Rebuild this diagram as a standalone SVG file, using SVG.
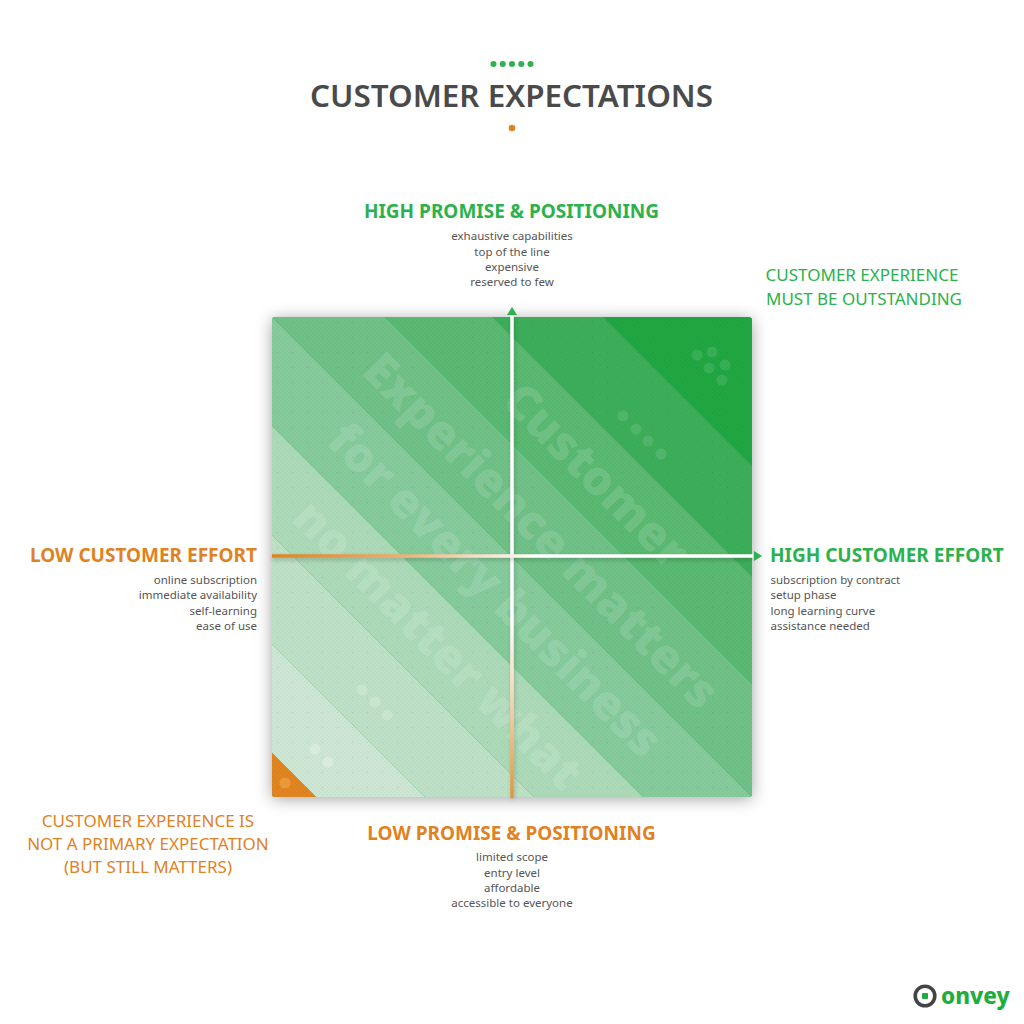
<svg xmlns="http://www.w3.org/2000/svg" width="1024" height="1024" viewBox="0 0 1024 1024">
<style>
text{font-family:"Noto Sans","Open Sans","Liberation Sans",sans-serif}
.h{font-size:19px;font-weight:700}
.s{font-size:11.500px;fill:#555}
.c{font-size:17px;font-weight:400}
.g{fill:#2bb24c}
.o{fill:#e0821f}
.m{text-anchor:middle}
.e{text-anchor:end}
.w{font-family:"Open Sans","Noto Sans",sans-serif;font-size:47.500px;font-weight:800;fill:#fff;fill-opacity:.14}
.d{fill:#fff;fill-opacity:.1}
</style>
<defs>
<clipPath id="clip"><rect x="272" y="317" width="480" height="480" rx="3"/></clipPath>
<filter id="sh" x="-15%" y="-15%" width="130%" height="130%"><feDropShadow dx="0" dy="2" stdDeviation="8" flood-color="#000" flood-opacity=".36"/></filter>
<filter id="lsv" filterUnits="userSpaceOnUse" x="500" y="310" width="24" height="500"><feDropShadow dx="1" dy="1" stdDeviation="2" flood-color="#000" flood-opacity=".18"/></filter>
<filter id="lsh" filterUnits="userSpaceOnUse" x="265" y="545" width="500" height="24"><feDropShadow dx="0" dy="2" stdDeviation="2" flood-color="#000" flood-opacity=".22"/></filter>
<pattern id="tex" width="4" height="4" patternUnits="userSpaceOnUse"><rect width="2" height="2" fill="#000" fill-opacity=".02"/><rect x="2" y="2" width="2" height="2" fill="#000" fill-opacity=".02"/></pattern>
<pattern id="dots" width="15" height="15" patternUnits="userSpaceOnUse"><rect x="7" y="7" width="1" height="1" fill="#000" fill-opacity=".1"/></pattern>
<linearGradient id="gv" gradientUnits="userSpaceOnUse" x1="512" y1="317" x2="512" y2="797"><stop offset="0" stop-color="#fff"/><stop offset=".62" stop-color="#fff"/><stop offset=".78" stop-color="#f6dcc0"/><stop offset="1" stop-color="#e5933a"/></linearGradient>
<linearGradient id="gh" gradientUnits="userSpaceOnUse" x1="272" y1="556" x2="752" y2="556"><stop offset="0" stop-color="#e0821f"/><stop offset=".25" stop-color="#eaaa6c"/><stop offset=".42" stop-color="#f6dcc0"/><stop offset=".55" stop-color="#fff"/><stop offset="1" stop-color="#fff"/></linearGradient>
</defs>
<rect width="1024" height="1024" fill="#fff"/>

<g id="title">
<circle class="g" cx="493.500" cy="64" r="3"/><circle class="g" cx="502.750" cy="64" r="3"/><circle class="g" cx="512" cy="64" r="3"/><circle class="g" cx="521.250" cy="64" r="3"/><circle class="g" cx="530.500" cy="64" r="3"/>
<text x="511.500" y="107" class="m" font-size="31.400" font-weight="600" fill="#4a4a4a">CUSTOMER EXPECTATIONS</text>
<circle class="o" cx="512" cy="128" r="3.300"/>
</g>

<g id="matrix">
<rect x="272" y="317" width="480" height="480" rx="3" fill="#ccc" filter="url(#sh)"/>
<g clip-path="url(#clip)">
<rect x="272" y="317" width="480" height="480" fill="#21a742"/>
<polygon points="603,317 492,317 752,577 752,466" fill="#3cae5a"/>
<polygon points="492,317 385,317 752,684 752,577" fill="#5ab972"/>
<polygon points="385,317 272,317 272,317 752,797 752,684" fill="#6fc187"/>
<polygon points="272,317 272,426 643,797 752,797" fill="#86cb9c"/>
<polygon points="272,426 272,535 534,797 643,797" fill="#acdab8"/>
<polygon points="272,535 272,644 425,797 534,797" fill="#bde0c6"/>
<polygon points="272,644 272,753 316,797 425,797" fill="#cde7d4"/>
<polygon points="272,753 272,797 316,797" fill="#e0851f"/>
<rect x="272" y="317" width="480" height="480" fill="url(#tex)"/>
<rect x="272" y="317" width="480" height="480" fill="url(#dots)"/>
<g id="watermark">
<text class="w" transform="translate(360 373) rotate(45)">Experience matters</text>
<text class="w" transform="translate(325 443) rotate(45)">for every business</text>
<text class="w" transform="translate(290 520) rotate(45)">no matter what</text>
<text class="w" transform="translate(500 403) rotate(45)">Customer</text>
</g>
<g id="level-dots">
<circle class="d" cx="697" cy="355" r="5.500"/><circle class="d" cx="712" cy="352" r="5.500"/><circle class="d" cx="709" cy="368" r="5.500"/><circle class="d" cx="725" cy="365" r="5.500"/><circle class="d" cx="722" cy="380" r="5.500"/>
<circle class="d" cx="623" cy="416" r="5.500"/><circle class="d" cx="636" cy="429" r="5.500"/><circle class="d" cx="648" cy="441" r="5.500"/><circle class="d" cx="661" cy="454" r="5.500"/>
<circle class="d" style="fill-opacity:.2" cx="362" cy="690" r="5.500"/><circle class="d" style="fill-opacity:.2" cx="375" cy="702" r="5.500"/><circle class="d" style="fill-opacity:.2" cx="387" cy="715" r="5.500"/>
<circle class="d" style="fill-opacity:.25" cx="315" cy="749" r="5.500"/><circle class="d" style="fill-opacity:.25" cx="328" cy="762" r="5.500"/>
<circle cx="285" cy="783" r="5.500" fill="#e89a3a"/>
</g>
</g>
</g>

<g id="connectors">
<line x1="512" y1="316" x2="512" y2="798" stroke="url(#gv)" stroke-width="3.500" filter="url(#lsv)"/>
<line x1="272" y1="556" x2="753" y2="556" stroke="url(#gh)" stroke-width="3.500" filter="url(#lsh)"/>
<polygon points="512,307 517,315 507,315" fill="#2bb24c"/>
<polygon points="754,551 762,556 754,561" fill="#2bb24c"/>
</g>

<g id="high-promise">
<text x="511.500" y="218" class="h g m">HIGH PROMISE &amp; POSITIONING</text>
<text class="s m"><tspan x="512" y="240">exhaustive capabilities</tspan><tspan x="512" y="255.500">top of the line</tspan><tspan x="512" y="271">expensive</tspan><tspan x="512" y="286">reserved to few</tspan></text>
</g>
<g id="high-effort">
<text x="770" y="562" class="h g">HIGH CUSTOMER EFFORT</text>
<text class="s"><tspan x="770.500" y="584">subscription by contract</tspan><tspan x="770.500" y="599">setup phase</tspan><tspan x="770.500" y="615">long learning curve</tspan><tspan x="770.500" y="630">assistance needed</tspan></text>
</g>
<g id="low-effort">
<text x="257" y="562" class="h o e">LOW CUSTOMER EFFORT</text>
<text class="s e"><tspan x="257" y="584">online subscription</tspan><tspan x="257" y="599">immediate availability</tspan><tspan x="257" y="615">self-learning</tspan><tspan x="257" y="630">ease of use</tspan></text>
</g>
<g id="low-promise">
<text x="511.500" y="840" class="h o m">LOW PROMISE &amp; POSITIONING</text>
<text class="s m"><tspan x="512" y="861">limited scope</tspan><tspan x="512" y="876.500">entry level</tspan><tspan x="512" y="892">affordable</tspan><tspan x="512" y="907">accessible to everyone</tspan></text>
</g>
<g id="note-high">
<text class="c g m"><tspan x="862" y="281">CUSTOMER EXPERIENCE</tspan><tspan x="864" y="305">MUST BE OUTSTANDING</tspan></text>
</g>
<g id="note-low">
<text class="c o m"><tspan x="148" y="827">CUSTOMER EXPERIENCE IS</tspan><tspan x="148" y="850">NOT A PRIMARY EXPECTATION</tspan><tspan x="148" y="873">(BUT STILL MATTERS)</tspan></text>
</g>
<g id="logo">
<circle cx="925" cy="996" r="9.800" fill="none" stroke="#444" stroke-width="3.600"/>
<rect x="922" y="993" width="6" height="6" rx="1" fill="#1fae3e"/>
<text x="941" y="1004" font-size="22.500" font-weight="800" fill="#1fae3e">onvey</text>
</g>
</svg>
